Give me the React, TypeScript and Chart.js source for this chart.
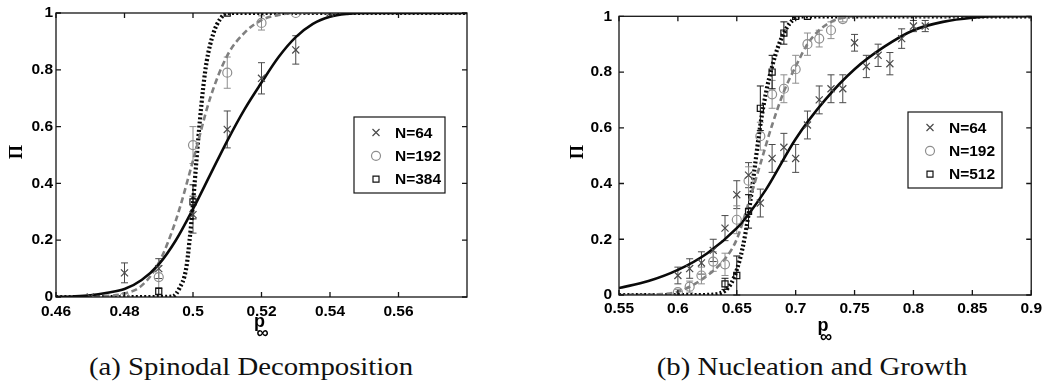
import React, { useEffect, useRef } from "react";
import { Chart, registerables } from "chart.js";

Chart.register(...registerables);

// ---------------- shared ----------------
const yTickVals = [0, 0.2, 0.4, 0.6, 0.8, 1];
const yTickLabels = ["0", "0.2", "0.4", "0.6", "0.8", "1"];

// ---------------- (a) Spinodal Decomposition ----------------
const aXTickVals = [0.46, 0.48, 0.5, 0.52, 0.54, 0.56];
const aXTickLabels = ["0.46", "0.48", "0.5", "0.52", "0.54", "0.56"];
const aNames = ["N=64", "N=192", "N=384"];

const aFit64X = [0.46, 0.465, 0.47, 0.475, 0.48, 0.485, 0.49, 0.495, 0.5, 0.505, 0.51, 0.515, 0.52, 0.525, 0.53, 0.535, 0.54, 0.545, 0.55, 0.58];
const aFit64Y = [0, 0.002, 0.006, 0.015, 0.028, 0.06, 0.115, 0.2, 0.31, 0.43, 0.55, 0.66, 0.755, 0.845, 0.915, 0.962, 0.987, 0.997, 1, 1];

const aFit192X = [0.46, 0.47, 0.475, 0.48, 0.485, 0.49, 0.495, 0.5, 0.505, 0.51, 0.515, 0.52, 0.525, 0.53, 0.58];
const aFit192Y = [0, 0.001, 0.004, 0.012, 0.04, 0.12, 0.27, 0.48, 0.7, 0.85, 0.93, 0.975, 0.993, 1, 1];

const aFit384X = [0.46, 0.49, 0.494, 0.496, 0.498, 0.499, 0.5, 0.501, 0.502, 0.503, 0.504, 0.506, 0.508, 0.51, 0.58];
const aFit384Y = [0, 0, 0.002, 0.03, 0.1, 0.2, 0.33, 0.48, 0.62, 0.74, 0.83, 0.93, 0.98, 1, 1];

const a64X = [0.47, 0.48, 0.49, 0.5, 0.51, 0.52, 0.53, 0.54];
const a64Y = [0, 0.085, 0.1, 0.29, 0.59, 0.77, 0.87, 1];
const a64Err = [0, 0.035, 0.035, 0.065, 0.065, 0.055, 0.05, 0];

const a192X = [0.48, 0.49, 0.5, 0.51, 0.52, 0.53];
const a192Y = [0, 0.07, 0.535, 0.79, 0.965, 1];
const a192Err = [0, 0.04, 0.065, 0.055, 0.025, 0];

const a384X = [0.49, 0.5, 0.51];
const a384Y = [0.02, 0.335, 1];
const a384Err = [0.012, 0.06, 0];

// ---------------- (b) Nucleation and Growth ----------------
const bXTickVals = [0.55, 0.6, 0.65, 0.7, 0.75, 0.8, 0.85, 0.9];
const bXTickLabels = ["0.55", "0.6", "0.65", "0.7", "0.75", "0.8", "0.85", "0.9"];
const bNames = ["N=64", "N=192", "N=512"];

const bFit64X = [0.55, 0.575, 0.6, 0.625, 0.65, 0.66, 0.675, 0.7, 0.725, 0.75, 0.775, 0.8, 0.825, 0.85, 0.875, 0.9];
const bFit64Y = [0.025, 0.05, 0.09, 0.15, 0.24, 0.29, 0.38, 0.56, 0.7, 0.81, 0.89, 0.95, 0.98, 0.995, 1, 1];

const bFit192X = [0.55, 0.58, 0.6, 0.62, 0.64, 0.65, 0.66, 0.67, 0.68, 0.69, 0.7, 0.71, 0.72, 0.73, 0.74, 0.75, 0.9];
const bFit192Y = [0, 0.002, 0.012, 0.055, 0.13, 0.2, 0.33, 0.47, 0.61, 0.73, 0.82, 0.9, 0.95, 0.98, 0.995, 1, 1];

const bFit512X = [0.55, 0.62, 0.635, 0.645, 0.65, 0.655, 0.66, 0.665, 0.67, 0.675, 0.68, 0.685, 0.69, 0.695, 0.7, 0.705, 0.9];
const bFit512Y = [0, 0, 0.005, 0.04, 0.09, 0.17, 0.29, 0.45, 0.61, 0.73, 0.82, 0.89, 0.94, 0.975, 0.995, 1, 1];

const b64X = [0.6, 0.61, 0.62, 0.63, 0.64, 0.65, 0.66, 0.67, 0.68, 0.69, 0.7, 0.71, 0.72, 0.73, 0.74, 0.75, 0.76, 0.77, 0.78, 0.79, 0.8, 0.81];
const b64Y = [0.07, 0.095, 0.115, 0.16, 0.24, 0.36, 0.43, 0.33, 0.49, 0.53, 0.49, 0.61, 0.7, 0.74, 0.74, 0.905, 0.82, 0.86, 0.83, 0.92, 0.965, 0.965];
const b64Err = [0.03, 0.035, 0.04, 0.04, 0.045, 0.05, 0.045, 0.05, 0.05, 0.05, 0.05, 0.05, 0.05, 0.05, 0.05, 0.03, 0.04, 0.04, 0.04, 0.035, 0.02, 0.02];

const b192X = [0.6, 0.61, 0.62, 0.63, 0.64, 0.65, 0.66, 0.67, 0.68, 0.69, 0.7, 0.71, 0.72, 0.73, 0.74];
const b192Y = [0.01, 0.03, 0.07, 0.12, 0.11, 0.27, 0.41, 0.57, 0.72, 0.74, 0.81, 0.9, 0.92, 0.95, 0.99];
const b192Err = [0.01, 0.02, 0.03, 0.035, 0.04, 0.05, 0.05, 0.05, 0.05, 0.05, 0.05, 0.04, 0.03, 0.03, 0.01];

const b512X = [0.64, 0.65, 0.66, 0.67, 0.68, 0.69, 0.7, 0.71];
const b512Y = [0.04, 0.07, 0.3, 0.67, 0.8, 0.94, 1, 1];
const b512Err = [0.02, 0.07, 0.06, 0.08, 0.06, 0.04, 0, 0];

// ---------------- styles ----------------
const CROSS = "#4a4a4a";
const CIRCLE = "#8e8e8e";
const SQUARE = "#111111";
const DASH = "#808080";
const TICK_FONT = { family: "'Liberation Sans', Arial, sans-serif", size: 15.5, weight: "bold" as const };

const zip = (xs: number[], ys: number[]) => xs.map((x, i) => ({ x, y: ys[i] }));

function drawMarker(ctx: CanvasRenderingContext2D, style: string, x: number, y: number, color: string) {
  ctx.save();
  ctx.strokeStyle = color;
  ctx.lineWidth = 1.2;
  ctx.beginPath();
  if (style === "crossRot") {
    ctx.moveTo(x - 3.5, y - 3.5); ctx.lineTo(x + 3.5, y + 3.5);
    ctx.moveTo(x + 3.5, y - 3.5); ctx.lineTo(x - 3.5, y + 3.5);
  } else if (style === "circle") {
    ctx.arc(x, y, 4.5, 0, Math.PI * 2);
  } else {
    ctx.rect(x - 3, y - 3, 6, 6);
  }
  ctx.stroke();
  ctx.restore();
}

const figurePlugin = {
  id: "figure",
  beforeDatasetsDraw(chart: any) {
    const ctx = chart.ctx;
    const xs = chart.scales.x, ys = chart.scales.y;
    chart.data.datasets.forEach((ds: any) => {
      if (!ds.errors) return;
      ctx.save();
      ctx.strokeStyle = ds.errorColor;
      ctx.lineWidth = 1;
      ds.data.forEach((p: any, j: number) => {
        const e = ds.errors[j];
        if (!e) return;
        const px = xs.getPixelForValue(p.x);
        const y1 = ys.getPixelForValue(p.y + e);
        const y2 = ys.getPixelForValue(p.y - e);
        ctx.beginPath();
        ctx.moveTo(px, y1); ctx.lineTo(px, y2);
        ctx.moveTo(px - 3.5, y1); ctx.lineTo(px + 3.5, y1);
        ctx.moveTo(px - 3.5, y2); ctx.lineTo(px + 3.5, y2);
        ctx.stroke();
      });
      ctx.restore();
    });
  },
  afterDatasetsDraw(chart: any) {
    const ctx = chart.ctx;
    const { left, right, top, bottom } = chart.chartArea;
    const xs = chart.scales.x, ys = chart.scales.y;
    ctx.save();
    ctx.strokeStyle = "#151515";
    ctx.lineWidth = 1.3;
    ctx.strokeRect(left, top, right - left, bottom - top);
    ctx.beginPath();
    xs.ticks.forEach((t: any) => {
      const px = xs.getPixelForValue(t.value);
      ctx.moveTo(px, bottom); ctx.lineTo(px, bottom - 5);
      ctx.moveTo(px, top); ctx.lineTo(px, top + 5);
    });
    ys.ticks.forEach((t: any) => {
      const py = ys.getPixelForValue(t.value);
      ctx.moveTo(left, py); ctx.lineTo(left + 5, py);
      ctx.moveTo(right, py); ctx.lineTo(right - 5, py);
    });
    ctx.stroke();
    ctx.restore();
  },
  afterDraw(chart: any) {
    const ctx = chart.ctx;
    const o = chart.options.plugins.figure;
    const { left, right } = chart.chartArea;
    const cx = (left + right) / 2;
    ctx.save();
    ctx.fillStyle = "#000";
    // x-axis title p_inf
    ctx.textAlign = "center";
    ctx.textBaseline = "alphabetic";
    ctx.font = "bold 18px 'Liberation Sans', Arial, sans-serif";
    ctx.fillText("p", cx - 2, o.pBase);
    ctx.font = "bold 17px 'Liberation Sans', Arial, sans-serif";
    ctx.fillText("\u221E", cx + 1, o.pBase + 11);
    // y-axis title Pi
    ctx.save();
    ctx.translate(o.piX, 152);
    ctx.rotate(-Math.PI / 2);
    ctx.textBaseline = "middle";
    ctx.font = "bold 18px 'Liberation Serif', serif";
    ctx.fillText("\u03A0", 0, 0);
    ctx.restore();
    // legend
    const L = o.legend;
    ctx.fillStyle = "#fff";
    ctx.fillRect(L.x, L.y, L.w, L.h);
    ctx.strokeStyle = "#151515";
    ctx.lineWidth = 1.2;
    ctx.strokeRect(L.x, L.y, L.w, L.h);
    const items = chart.data.datasets.filter((d: any) => d.legendText);
    items.forEach((d: any, i: number) => {
      const ry = L.y + 15.5 + i * 23.3;
      drawMarker(ctx, d.pointStyle, L.x + 22, ry, d.pointBorderColor);
      ctx.fillStyle = "#000";
      ctx.textAlign = "left";
      ctx.textBaseline = "middle";
      ctx.font = "bold 15.5px 'Liberation Sans', Arial, sans-serif";
      ctx.fillText(d.legendText, L.x + 41, ry + 1);
    });
    ctx.restore();
  },
};

type PanelCfg = {
  width: number;
  height: number;
  area: { left: number; right: number; top: number; bottom: number };
  xMin: number;
  xMax: number;
  xTickVals: number[];
  xTickLabels: string[];
  yPad: number;
  xPad: number;
  pBase: number;
  piX: number;
  legend: { x: number; y: number; w: number; h: number };
  datasets: any[];
};

function buildDatasets(
  names: string[],
  fits: [number[], number[]][],
  pts: [number[], number[], number[]][]
) {
  const markerStyles = ["crossRot", "circle", "rect"];
  const markerColors = [CROSS, CIRCLE, SQUARE];
  const markers = pts.map(([xs, ys, es], i) => ({
    type: "scatter",
    legendText: names[i],
    data: zip(xs, ys),
    errors: es,
    errorColor: markerColors[i],
    pointStyle: markerStyles[i],
    pointRadius: i === 0 ? 5 : i === 1 ? 4.5 : 4.3,
    pointBorderWidth: 1.2,
    pointBorderColor: markerColors[i],
    pointBackgroundColor: "rgba(0,0,0,0)",
    showLine: false,
  }));
  const lineStyles = [
    { borderColor: "#0a0a0a", borderWidth: 2.6, borderDash: [] },
    { borderColor: DASH, borderWidth: 2.6, borderDash: [6, 3.5] },
    { borderColor: "#0a0a0a", borderWidth: 4.2, borderDash: [2, 2.2] },
  ];
  const lines = fits.map(([xs, ys], i) => ({
    type: "line",
    data: zip(xs, ys),
    pointRadius: 0,
    fill: false,
    cubicInterpolationMode: "monotone",
    borderCapStyle: "butt",
    ...lineStyles[i],
  }));
  return [...markers, ...lines];
}

const panelA: PanelCfg = {
  width: 520,
  height: 345,
  area: { left: 56, right: 467, top: 13, bottom: 297 },
  xMin: 0.46,
  xMax: 0.58,
  xTickVals: aXTickVals,
  xTickLabels: aXTickLabels,
  yPad: 3,
  xPad: 5,
  pBase: 327,
  piX: 17,
  legend: { x: 354, y: 117, w: 91, h: 76 },
  datasets: buildDatasets(
    aNames,
    [[aFit64X, aFit64Y], [aFit192X, aFit192Y], [aFit384X, aFit384Y]],
    [[a64X, a64Y, a64Err], [a192X, a192Y, a192Err], [a384X, a384Y, a384Err]]
  ),
};

const panelB: PanelCfg = {
  width: 526,
  height: 345,
  area: { left: 99, right: 512, top: 10, bottom: 295 },
  xMin: 0.55,
  xMax: 0.9,
  xTickVals: bXTickVals,
  xTickLabels: bXTickLabels,
  yPad: 7,
  xPad: 4,
  pBase: 331,
  piX: 58,
  legend: { x: 388, y: 112, w: 94, h: 76 },
  datasets: buildDatasets(
    bNames,
    [[bFit64X, bFit64Y], [bFit192X, bFit192Y], [bFit512X, bFit512Y]],
    [[b64X, b64Y, b64Err], [b192X, b192Y, b192Err], [b512X, b512Y, b512Err]]
  ),
};

function Panel({ cfg, left }: { cfg: PanelCfg; left: number }) {
  const ref = useRef<HTMLCanvasElement | null>(null);
  useEffect(() => {
    if (!ref.current) return;
    const a = cfg.area;
    const chart = new Chart(ref.current, {
      type: "scatter",
      data: { datasets: cfg.datasets as any },
      plugins: [figurePlugin as any],
      options: {
        animation: false,
        responsive: false,
        devicePixelRatio: 1,
        events: [],
        layout: { padding: { left: 0, right: cfg.width - a.right, top: a.top, bottom: 0 } },
        plugins: {
          legend: { display: false },
          tooltip: { enabled: false },
          figure: { pBase: cfg.pBase, piX: cfg.piX, legend: cfg.legend },
        } as any,
        scales: {
          x: {
            type: "linear",
            min: cfg.xMin,
            max: cfg.xMax,
            grid: { display: false, drawTicks: false },
            border: { display: false },
            afterBuildTicks: (s: any) => {
              s.ticks = cfg.xTickVals.map((v) => ({ value: v }));
            },
            afterFit: (s: any) => {
              s.height = cfg.height - a.bottom;
            },
            ticks: {
              padding: cfg.xPad,
              color: "#000",
              font: TICK_FONT,
              maxRotation: 0,
              autoSkip: false,
              callback: (_v: any, i: number) => cfg.xTickLabels[i],
            },
          },
          y: {
            type: "linear",
            min: 0,
            max: 1,
            grid: { display: false, drawTicks: false },
            border: { display: false },
            afterBuildTicks: (s: any) => {
              s.ticks = yTickVals.map((v) => ({ value: v }));
            },
            afterFit: (s: any) => {
              s.width = a.left;
            },
            ticks: {
              padding: cfg.yPad,
              color: "#000",
              font: TICK_FONT,
              autoSkip: false,
              callback: (_v: any, i: number) => yTickLabels[i],
            },
          },
        },
      } as any,
    });
    return () => chart.destroy();
  }, [cfg]);
  return (
    <canvas
      ref={ref}
      width={cfg.width}
      height={cfg.height}
      style={{ position: "absolute", left, top: 0, width: cfg.width, height: cfg.height }}
    />
  );
}

const captionStyle: React.CSSProperties = {
  position: "absolute",
  top: 352,
  width: 400,
  textAlign: "center",
  fontFamily: "'Liberation Serif', 'Times New Roman', serif",
  fontSize: 25,
  lineHeight: "30px",
  color: "#111",
  transform: "scaleX(1.15)",
  transformOrigin: "center",
  whiteSpace: "nowrap",
};

export default function App() {
  return (
    <div
      style={{
        position: "absolute",
        left: 0,
        top: 0,
        width: 1046,
        height: 391,
        background: "#fff",
        overflow: "hidden",
      }}
    >
      <Panel cfg={panelA} left={0} />
      <Panel cfg={panelB} left={520} />
      <div style={{ ...captionStyle, left: 251 - 200 }}>(a) Spinodal Decomposition</div>
      <div style={{ ...captionStyle, left: 812 - 200 }}>(b) Nucleation and Growth</div>
    </div>
  );
}
